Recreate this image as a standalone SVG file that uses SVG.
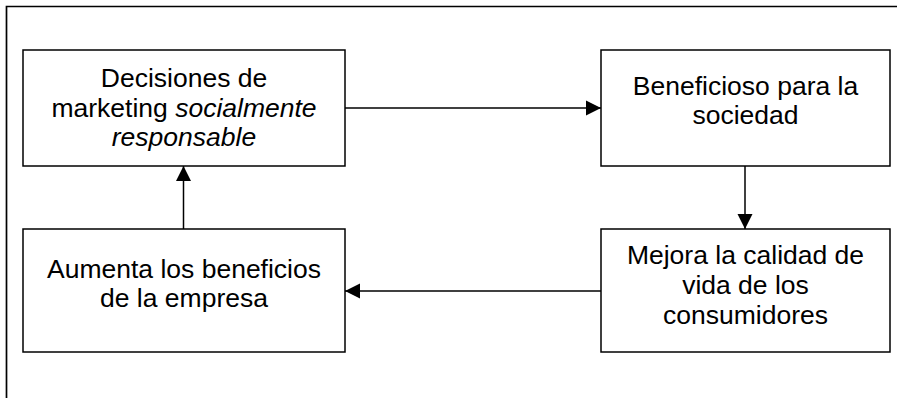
<svg xmlns="http://www.w3.org/2000/svg" width="897" height="398" viewBox="0 0 897 398">
<style>
.box{fill:#fff;stroke:#000;stroke-width:1.5}
.t{font-family:"Liberation Sans",Arial,sans-serif;font-size:26.5px;fill:#000;text-anchor:middle}
.c{stroke:#000;stroke-width:1.5;fill:none;marker-end:url(#ah)}
</style>
<defs>
<marker id="ah" markerUnits="userSpaceOnUse" markerWidth="16" markerHeight="16" viewBox="0 0 16 16" refX="15" refY="8" orient="auto">
<path d="M0,0.5 L15,8 L0,15.5 Z" fill="#000"/>
</marker>
</defs>
<rect width="897" height="398" fill="#fff"/>
<path d="M6.5,398 L6.5,6.5 L897,6.5" fill="none" stroke="#000" stroke-width="1.7"/>
<g id="connectors">
<line class="c" x1="345" y1="108" x2="601" y2="108"/>
<line class="c" x1="745" y1="166" x2="745" y2="229"/>
<line class="c" x1="601" y1="291" x2="345" y2="291"/>
<line class="c" x1="183.5" y1="229" x2="183.5" y2="166"/>
</g>
<g id="n1">
<rect class="box" x="23" y="50" width="322" height="116"/>
<text class="t" x="184" y="87">Decisiones de</text>
<text class="t" x="184" y="116.5">marketing <tspan font-style="italic">socialmente</tspan></text>
<text class="t" x="184" y="146" font-style="italic">responsable</text>
</g>
<g id="n2">
<rect class="box" x="601" y="50" width="289" height="116"/>
<text class="t" x="745.5" y="95">Beneficioso para la</text>
<text class="t" x="745.5" y="124">sociedad</text>
</g>
<g id="n3">
<rect class="box" x="23" y="229" width="322" height="123"/>
<text class="t" x="184" y="278">Aumenta los beneficios</text>
<text class="t" x="184" y="307">de la empresa</text>
</g>
<g id="n4">
<rect class="box" x="601" y="229" width="289" height="123"/>
<text class="t" x="745.5" y="264">Mejora la calidad de</text>
<text class="t" x="745.5" y="294">vida de los</text>
<text class="t" x="745.5" y="324">consumidores</text>
</g>
</svg>
